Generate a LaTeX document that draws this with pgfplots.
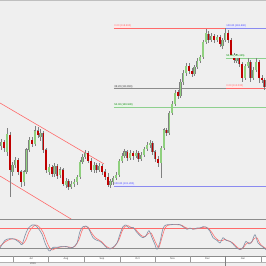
\documentclass[border=0pt]{standalone}
\usepackage{pgfplots}
\pgfplotsset{compat=1.18}
\usepackage{pgfplotstable}
\usepackage{fontspec}
\setmainfont{Liberation Sans}
\definecolor{bg}{HTML}{EFEFEF}
\definecolor{upgreen}{HTML}{8FD07E}
\definecolor{dnred}{HTML}{C00000}
\definecolor{wick}{HTML}{808080}
\definecolor{fibred}{HTML}{FF6A6A}
\definecolor{fibgreen}{HTML}{8ED08E}
\definecolor{fibblue}{HTML}{8A8AF0}
\definecolor{fibgray}{HTML}{8C8C8C}
\definecolor{kline}{HTML}{7F8EA3}
\definecolor{dline}{HTML}{FF6E6E}
\pgfplotstableread{
i o h l c
0 105.62 106.39 105.18 106.06
1 106.06 106.28 104.96 105.40
2 104.96 107.61 104.51 106.94
3 106.83 107.17 99.98 102.97
4 102.75 103.85 102.30 103.52
5 103.52 104.40 103.19 104.07
6 104.07 104.29 102.41 102.75
7 102.75 102.97 101.09 101.64
8 101.64 102.97 101.20 102.75
9 102.75 105.40 102.52 105.18
10 105.18 106.61 104.96 106.28
11 106.28 106.61 105.51 105.84
12 105.84 107.83 105.62 107.28
13 107.28 107.72 106.50 106.83
14 106.61 107.50 106.17 107.05
15 107.05 107.28 104.84 105.18
16 105.18 105.40 102.63 102.97
17 102.75 103.63 102.41 103.30
18 103.30 103.52 102.19 102.52
19 102.52 103.74 102.19 103.41
20 103.41 103.63 101.97 102.30
21 102.41 103.30 102.08 102.97
22 102.97 103.19 101.20 101.42
23 101.31 102.08 100.97 101.75
24 101.75 101.97 100.75 101.09
25 101.09 101.75 100.86 101.42
26 101.42 101.97 101.09 101.64
27 101.64 102.41 101.31 102.19
28 102.19 104.07 101.97 103.85
29 103.85 104.73 103.63 104.40
30 104.40 105.18 104.18 104.84
31 104.84 105.07 103.74 103.96
32 103.96 104.29 102.75 102.97
33 102.97 103.85 102.63 103.52
34 103.52 103.74 102.63 102.97
35 102.97 103.74 102.75 103.41
36 103.41 103.63 102.41 102.75
37 102.75 103.08 101.86 102.19
38 102.19 102.63 101.09 101.31
39 101.31 101.97 100.97 101.75
40 101.64 102.30 101.31 102.08
41 102.08 102.75 101.86 102.41
42 102.41 104.18 102.19 103.96
43 103.96 104.84 103.74 104.51
44 104.51 105.29 104.29 104.96
45 104.96 105.18 103.96 104.29
46 104.29 105.18 104.07 104.84
47 104.84 105.07 104.07 104.51
48 104.51 105.18 104.29 104.84
49 104.84 105.07 103.85 104.18
50 104.18 104.96 103.96 104.62
51 104.62 105.51 104.40 105.29
52 105.29 106.06 105.07 105.73
53 105.73 106.28 105.40 105.95
54 105.95 106.17 104.62 104.96
55 104.96 105.18 103.85 104.18
56 104.18 104.51 103.30 103.74
57 103.74 105.62 102.08 105.40
58 105.40 107.61 105.18 107.39
59 107.39 107.61 106.72 107.05
60 107.05 109.48 106.83 109.26
61 109.26 110.59 109.04 110.26
62 110.26 111.81 110.04 111.47
63 111.58 111.81 110.81 111.14
64 111.14 113.02 110.92 112.69
65 112.69 114.02 112.36 113.68
66 113.68 114.79 113.35 114.46
67 114.46 114.79 113.57 113.90
68 113.90 114.24 113.24 113.57
69 113.57 114.57 113.35 114.35
70 114.35 115.34 114.13 115.01
71 115.01 115.67 114.79 115.45
72 115.45 117.33 115.23 117.11
73 117.11 118.55 116.89 118.10
74 117.99 118.32 117.00 117.33
75 117.33 118.10 117.11 117.77
76 117.77 117.99 117.00 117.33
77 117.33 117.88 117.11 117.66
78 117.66 117.88 116.56 116.89
79 116.67 117.55 116.34 117.33
80 117.33 118.66 117.11 118.10
81 118.10 118.44 117.00 117.33
82 117.33 117.55 115.34 115.56
83 115.56 115.89 114.79 115.12
84 115.01 115.78 114.79 115.45
85 115.45 115.67 114.35 114.68
86 114.68 114.90 112.69 113.13
87 113.13 114.68 112.91 114.46
88 114.46 115.34 114.24 114.90
89 114.90 115.12 112.69 113.13
90 113.13 114.35 112.91 114.02
91 114.02 115.34 113.79 114.90
92 114.90 115.12 112.58 113.13
93 113.13 113.46 112.58 112.91
94 112.91 113.13 111.81 112.14
}\candles
\pgfplotsset{panel/.style={scale only axis, width=266pt, axis lines=none,
  xmin=0, xmax=266, clip=true, anchor=south west},
  ebar/.style={draw=none, no markers, forget plot}}
\tikzset{lbl/.style={anchor=south west, inner sep=0.25pt, font=\fontsize{2.6}{3}\selectfont}}
\begin{document}
\begin{tikzpicture}[x=1pt,y=1pt]
\useasboundingbox (0,0) rectangle (266,266);
\fill[bg] (0,0) rectangle (266,266);
% main price panel
\begin{axis}[panel, at={(0pt,47pt)}, height=219pt, ymin=97.55, ymax=121.75]
% channel lines
\addplot[fibred, line width=0.6pt] coordinates {(0,110.37) (104,103.63)};
\addplot[fibred, line width=0.6pt] coordinates {(0,102.30) (74,97.35)};
% fib levels (left retracement)
\addplot[fibred, line width=0.6pt] coordinates {(114,118.66) (266,118.66)};
\addplot[fibgray, line width=0.6pt] coordinates {(114,111.99) (266,111.99)};
\addplot[fibgreen, line width=0.6pt] coordinates {(114,109.93) (266,109.93)};
\addplot[fibblue, line width=0.6pt] coordinates {(114,101.20) (266,101.20)};
% fib levels (right retracement)
\addplot[fibblue, line width=0.6pt] coordinates {(226,118.66) (266,118.66)};
\addplot[fibgreen, line width=0.6pt] coordinates {(226,115.345) (266,115.345)};
\addplot[fibred, line width=0.6pt] coordinates {(226,112.03) (266,112.03)};
% wicks
\addplot[ebar, error bars/.cd, y dir=both, y explicit, error mark=none,
  error bar style={line width=0.45pt, draw=wick}]
  table[x expr=2.8*\thisrow{i}+1.4, y expr=0.5*(\thisrow{h}+\thisrow{l}),
  y error plus expr=0.5*(\thisrow{h}-\thisrow{l}), y error minus expr=0.5*(\thisrow{h}-\thisrow{l})]{\candles};
% body outlines
\addplot[ebar, error bars/.cd, y dir=both, y explicit, error mark=none,
  error bar style={line width=2.2pt, draw=wick}]
  table[x expr=2.8*\thisrow{i}+1.4, y expr=0.5*(\thisrow{o}+\thisrow{c}),
  y error plus expr=0.5*abs(\thisrow{c}-\thisrow{o})+0.05, y error minus expr=0.5*abs(\thisrow{c}-\thisrow{o})+0.05]{\candles};
% up bodies
\addplot[ebar, restrict expr to domain={\thisrow{c}-\thisrow{o}}{0:100},
  error bars/.cd, y dir=both, y explicit, error mark=none,
  error bar style={line width=1.5pt, draw=upgreen}]
  table[x expr=2.8*\thisrow{i}+1.4, y expr=0.5*(\thisrow{o}+\thisrow{c}),
  y error plus expr=0.5*abs(\thisrow{c}-\thisrow{o}), y error minus expr=0.5*abs(\thisrow{c}-\thisrow{o})]{\candles};
% down bodies
\addplot[ebar, restrict expr to domain={\thisrow{o}-\thisrow{c}}{0.0001:100},
  error bars/.cd, y dir=both, y explicit, error mark=none,
  error bar style={line width=1.5pt, draw=dnred}]
  table[x expr=2.8*\thisrow{i}+1.4, y expr=0.5*(\thisrow{o}+\thisrow{c}),
  y error plus expr=0.5*abs(\thisrow{c}-\thisrow{o}), y error minus expr=0.5*abs(\thisrow{c}-\thisrow{o})]{\candles};
% labels
\node[lbl, text=fibred, fill=fibred!15] at (axis cs:114,118.66) {0.00 (118.660)};
\node[lbl, text=black!70, fill=white!80!gray] at (axis cs:114,111.99) {38.20 (111.990)};
\node[lbl, text=green!50!black, fill=fibgreen!20] at (axis cs:114,109.93) {50.00 (109.930)};
\node[lbl, text=blue!70, fill=fibblue!20] at (axis cs:114,101.20) {100.00 (101.200)};
\node[lbl, text=blue!70, fill=fibblue!20] at (axis cs:226,118.66) {100.00 (118.660)};
\node[lbl, text=green!50!black, fill=fibgreen!20] at (axis cs:226,115.345) {50.00 (115.345)};
\node[lbl, text=fibred, fill=fibred!15] at (axis cs:226,112.03) {0.00 (112.030)};
\end{axis}
% stochastic panel
\begin{axis}[panel, at={(0pt,10pt)}, height=37pt, ymin=-4, ymax=107]
\addplot[fibred, line width=0.5pt] coordinates {(0,80) (266,80)};
\addplot[fibgray, line width=0.6pt] coordinates {(0,20) (266,20)};
\addplot[dline, line width=0.6pt, smooth] coordinates {
(0,25) (5,38) (10,46) (15,47) (20,40) (23,33) (26,45) (29,68) (33,84) (36,89) (39,84) (43,68) (46,45) (49,24) (52,14) (55,18) (59,22) (64,24) (69,23) (72,21) (75,25) (79,45) (82,72) (85,84) (88,83) (91,68) (95,52) (99,44) (102,38) (105,28) (109,20) (112,19) (115,26) (119,45) (122,70) (125,85) (128,87) (131,82) (135,78) (138,67) (142,56) (145,54) (148,63) (151,65) (154,47) (157,28) (159,22) (162,52) (165,80) (168,88) (172,90) (177,90) (182,88) (185,82) (189,78) (192,78) (195,77) (199,79) (202,81) (205,83) (208,80) (212,66) (215,52) (219,42) (222,42) (225,46) (228,42) (232,37) (235,29) (238,20) (242,17) (245,28) (248,36) (251,35) (254,48) (257,50) (260,33) (264,22) (266,19)};
\addplot[kline, line width=0.6pt, smooth] coordinates {
(0,20) (5,43) (10,48) (15,46) (20,35) (22,30) (25,57) (28,78) (32,89) (35,89) (38,80) (42,62) (45,35) (48,16) (50,11) (53,22) (57,22) (62,25) (67,24) (70,20) (73,22) (77,35) (80,70) (83,84) (86,86) (89,76) (93,51) (97,43) (100,40) (103,32) (107,20) (110,17) (113,22) (117,35) (120,62) (123,84) (126,89) (129,80) (133,82) (136,70) (140,57) (143,51) (146,57) (149,72) (152,51) (155,30) (157,16) (160,38) (163,79) (166,89) (170,90) (175,91) (180,90) (183,84) (187,76) (190,80) (193,76) (197,80) (200,80) (203,84) (206,83) (210,70) (213,51) (217,43) (220,35) (223,51) (226,43) (230,40) (233,32) (236,22) (240,15) (243,22) (246,40) (249,32) (252,40) (255,60) (258,35) (262,25) (266,15)};
\end{axis}
% frame lines
\draw[black!25, line width=0.8pt] (0,265.6) -- (266,265.6);
\draw[black!45, line width=1.2pt] (0,46.4) -- (266,46.4);
\fill[white] (0,4) rectangle (266,10);
\draw[black!45, line width=0.6pt] (0,10) -- (266,10);
\draw[black!30, line width=0.4pt] (0,4) -- (266,4);
\foreach \xx in {13,48,84,120,155,190,261} \draw[black!40, line width=0.4pt] (\xx,4) -- (\xx,10);
\draw[black!50, line width=0.4pt] (225,0) -- (225,10);
\foreach \xx/\tt in {31/Jul,66/Aug,102/Sep,137.5/Oct,172.5/Nov,207.5/Dec,243/Jan}
  \node[font=\fontsize{2.6}{3}\selectfont, text=black!70, inner sep=0] at (\xx,7) {\tt};
\node[font=\fontsize{2.6}{3}\selectfont, text=black!70, inner sep=0] at (33,2) {2016};
\end{tikzpicture}
\end{document}
